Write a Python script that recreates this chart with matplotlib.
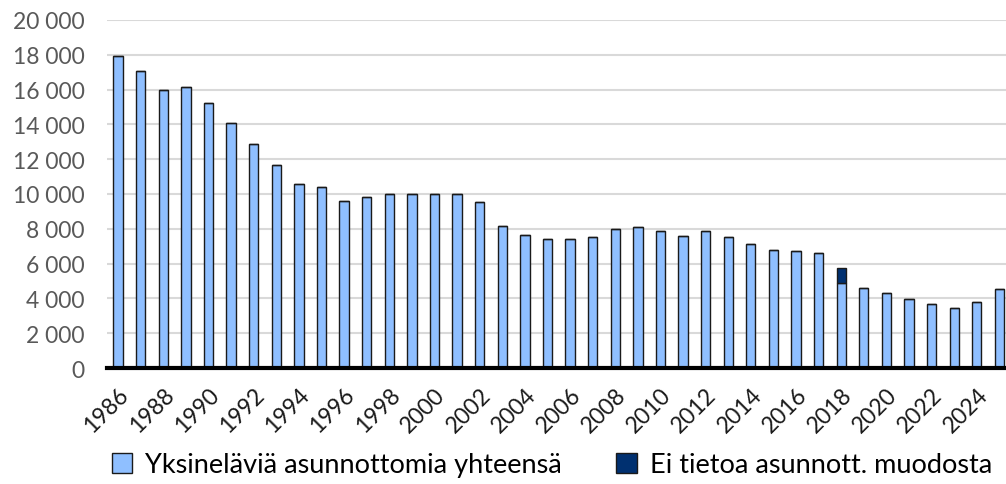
"""Yksineläviä asunnottomia 1986-2025 (bar chart)."""

import matplotlib.pyplot as plt
import matplotlib.transforms as mtransforms
from matplotlib.ticker import FuncFormatter
import numpy as np

plt.rcParams['font.family'] = ['Lato', 'DejaVu Sans']

years = list(range(1986, 2026))
yksin = [17930, 17090, 15980, 16170, 15230, 14080, 12860, 11650, 10560, 10410,
         9600, 9800, 9970, 9970, 10000, 10000, 9550, 8170, 7650, 7420,
         7390, 7540, 7960, 8130, 7880, 7580, 7850, 7520, 7120, 6790,
         6700, 6620, 4880, 4610, 4340, 3960, 3690, 3430, 3810, 4570]
ei_tietoa = [0] * 32 + [840] + [0] * 7
tick_years = list(range(1986, 2025, 2))

light = '#8fbfff'
dark = '#003070'
edge = '#1a1a1a'

fig = plt.figure(figsize=(10.06, 4.85), dpi=100)
ax = fig.add_axes([0.1064, 0.239, 0.8936, 0.718])

x = np.arange(len(years))
ax.bar(x, yksin, width=0.41, color=light, edgecolor=edge, linewidth=1,
       label='Yksineläviä asunnottomia yhteensä', zorder=3)
ax.bar(x, ei_tietoa, width=0.41, bottom=yksin, color=dark, edgecolor=edge,
       linewidth=1, label='Ei tietoa asunnott. muodosta', zorder=3)

ax.set_xlim(-0.49, 39.29)
ax.set_ylim(0, 20000)
ax.set_yticks(range(0, 20001, 2000))
ax.yaxis.set_major_formatter(FuncFormatter(lambda v, p: f'{int(v):,}'.replace(',', ' ')))
ax.set_xticks([years.index(y) for y in tick_years])
ax.set_xticklabels([str(y) for y in tick_years], rotation=45, ha='right',
                   rotation_mode='anchor', fontsize=16.5, color='#1a1a1a')
shift = mtransforms.ScaledTranslation(4 / 100, 0, fig.dpi_scale_trans)
for lbl in ax.get_xticklabels():
    lbl.set_transform(lbl.get_transform() + shift)
ax.tick_params(axis='y', labelsize=16.5, labelcolor='#595959', length=0, pad=16)
ax.tick_params(axis='x', length=0, pad=11)

ax.grid(axis='y', color='#d9d9d9', linewidth=1.5, zorder=0)
for s in ['top', 'right', 'left']:
    ax.spines[s].set_visible(False)
ax.spines['bottom'].set_linewidth(3)
ax.spines['bottom'].set_color('black')
ax.spines['bottom'].set_zorder(4)

ax.legend(loc='center', bbox_to_anchor=(0.495, -0.277), ncol=2, frameon=False,
          fontsize=19.5, handlelength=0.75, handleheight=0.75, handletextpad=0.5,
          columnspacing=2.0, borderaxespad=0)

plt.savefig('out.png', dpi=100)
